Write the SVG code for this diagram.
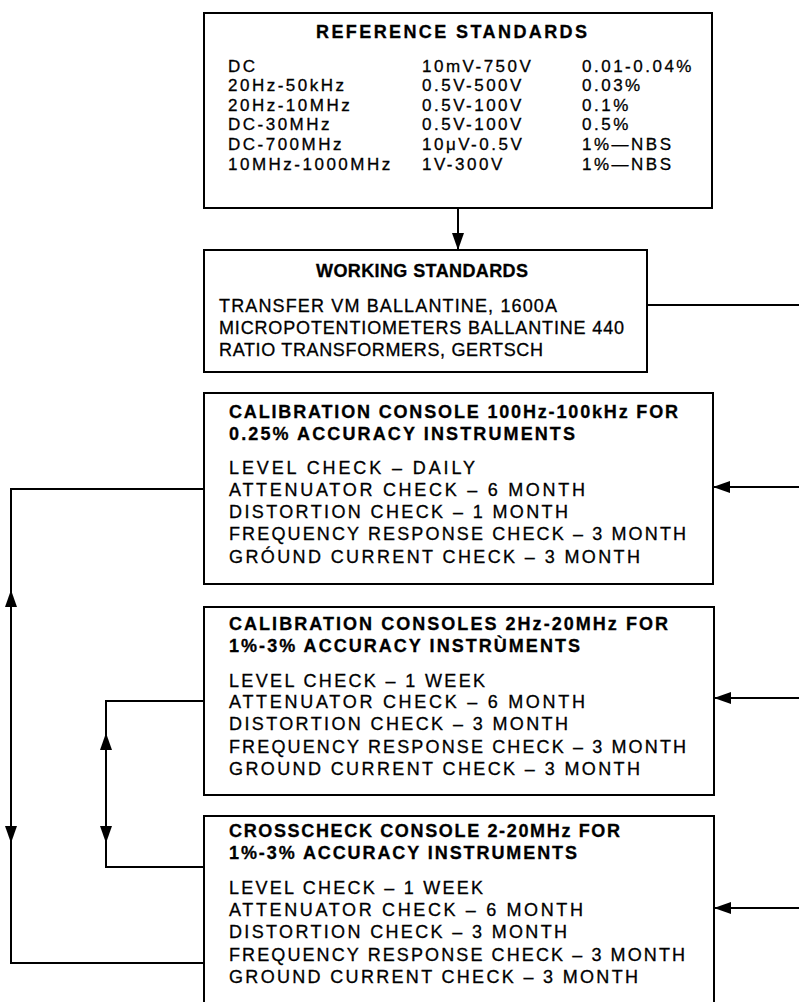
<svg xmlns="http://www.w3.org/2000/svg" width="799" height="1002" viewBox="0 0 799 1002">
<style>
.box{fill:#fff;stroke:#000;stroke-width:2}
.t{font-family:'Liberation Sans',Arial,Helvetica,sans-serif;font-size:18px;fill:#000;stroke:#000;stroke-width:0.3}
.b{font-weight:bold}
.tb{font-size:17px;letter-spacing:2.5px}
.conn{stroke:#000;stroke-width:2;fill:none}
</style>
<defs>
<marker id="ah" markerUnits="userSpaceOnUse" markerWidth="18" markerHeight="12" refX="17" refY="6" orient="auto"><path d="M0,0 L17,6 L0,12 z" fill="#000"/></marker>
</defs>
<rect width="799" height="1002" fill="#fff"/>
<g id="connectors">
<line class="conn" x1="458" y1="208" x2="458" y2="250" marker-end="url(#ah)"/>
<line class="conn" x1="647" y1="305" x2="799" y2="305"/>
<line class="conn" x1="799" y1="487" x2="713" y2="487" marker-end="url(#ah)"/>
<line class="conn" x1="799" y1="698" x2="714" y2="698" marker-end="url(#ah)"/>
<line class="conn" x1="799" y1="908" x2="714" y2="908" marker-end="url(#ah)"/>
<polyline class="conn" points="204,489 11,489 11,963 204,963"/>
<line class="conn" x1="11" y1="620" x2="11" y2="590" marker-end="url(#ah)"/>
<line class="conn" x1="11" y1="810" x2="11" y2="843" marker-end="url(#ah)"/>
<polyline class="conn" points="204,701 106,701 106,867 204,867"/>
<line class="conn" x1="106" y1="770" x2="106" y2="733" marker-end="url(#ah)"/>
<line class="conn" x1="106" y1="810" x2="106" y2="843" marker-end="url(#ah)"/>
</g>
<g id="reference-standards">
<rect class="box" x="204" y="13" width="508" height="195"/>
<text class="t b" x="316" y="38" textLength="271" lengthAdjust="spacing">REFERENCE STANDARDS</text>
<g class="t tb">
<text x="228" y="72">DC</text>
<text x="228" y="91">20Hz-50kHz</text>
<text x="228" y="111">20Hz-10MHz</text>
<text x="228" y="130">DC-30MHz</text>
<text x="228" y="150">DC-700MHz</text>
<text x="228" y="170">10MHz-1000MHz</text>
<text x="422" y="72">10mV-750V</text>
<text x="422" y="91">0.5V-500V</text>
<text x="422" y="111">0.5V-100V</text>
<text x="422" y="130">0.5V-100V</text>
<text x="422" y="150">10μV-0.5V</text>
<text x="422" y="170">1V-300V</text>
<text x="582" y="72">0.01-0.04%</text>
<text x="582" y="91">0.03%</text>
<text x="582" y="111">0.1%</text>
<text x="582" y="130">0.5%</text>
<text x="582" y="150">1%—NBS</text>
<text x="582" y="170">1%—NBS</text>
</g>
</g>
<g id="working-standards">
<rect class="box" x="204" y="250" width="443" height="122"/>
<text class="t b" x="316" y="277" textLength="212" lengthAdjust="spacing">WORKING STANDARDS</text>
<text class="t" x="219" y="312" textLength="338" lengthAdjust="spacing">TRANSFER VM BALLANTINE, 1600A</text>
<text class="t" x="219" y="334" textLength="405" lengthAdjust="spacing">MICROPOTENTIOMETERS BALLANTINE 440</text>
<text class="t" x="219" y="356" textLength="324" lengthAdjust="spacing">RATIO TRANSFORMERS, GERTSCH</text>
</g>
<g id="calibration-console-100hz">
<rect class="box" x="204" y="393" width="509" height="191"/>
<text class="t b" x="229" y="418" textLength="449" lengthAdjust="spacing">CALIBRATION CONSOLE 100Hz-100kHz FOR</text>
<text class="t b" x="229" y="440" textLength="346" lengthAdjust="spacing">0.25% ACCURACY INSTRUMENTS</text>
<text class="t" x="229" y="474" textLength="246" lengthAdjust="spacing">LEVEL CHECK – DAILY</text>
<text class="t" x="229" y="496" textLength="356" lengthAdjust="spacing">ATTENUATOR CHECK – 6 MONTH</text>
<text class="t" x="229" y="518" textLength="339" lengthAdjust="spacing">DISTORTION CHECK – 1 MONTH</text>
<text class="t" x="229" y="540" textLength="457" lengthAdjust="spacing">FREQUENCY RESPONSE CHECK – 3 MONTH</text>
<text class="t" x="229" y="563" textLength="411" lengthAdjust="spacing">GRÓUND CURRENT CHECK – 3 MONTH</text>
</g>
<g id="calibration-consoles-2hz">
<rect class="box" x="204" y="607" width="510" height="188"/>
<text class="t b" x="229" y="630" textLength="439" lengthAdjust="spacing">CALIBRATION CONSOLES 2Hz-20MHz FOR</text>
<text class="t b" x="229" y="652" textLength="351" lengthAdjust="spacing">1%-3% ACCURACY INSTRÙMENTS</text>
<text class="t" x="229" y="687" textLength="256" lengthAdjust="spacing">LEVEL CHECK – 1 WEEK</text>
<text class="t" x="229" y="708" textLength="356" lengthAdjust="spacing">ATTENUATOR CHECK – 6 MONTH</text>
<text class="t" x="229" y="730" textLength="339" lengthAdjust="spacing">DISTORTION CHECK – 3 MONTH</text>
<text class="t" x="229" y="753" textLength="457" lengthAdjust="spacing">FREQUENCY RESPONSE CHECK – 3 MONTH</text>
<text class="t" x="229" y="775" textLength="411" lengthAdjust="spacing">GROUND CURRENT CHECK – 3 MONTH</text>
</g>
<g id="crosscheck-console">
<rect class="box" x="204" y="816" width="510" height="200"/>
<text class="t b" x="229" y="837" textLength="391" lengthAdjust="spacing">CROSSCHECK CONSOLE 2-20MHz FOR</text>
<text class="t b" x="229" y="859" textLength="348" lengthAdjust="spacing">1%-3% ACCURACY INSTRUMENTS</text>
<text class="t" x="229" y="894" textLength="254" lengthAdjust="spacing">LEVEL CHECK – 1 WEEK</text>
<text class="t" x="229" y="916" textLength="354" lengthAdjust="spacing">ATTENUATOR CHECK – 6 MONTH</text>
<text class="t" x="229" y="938" textLength="338" lengthAdjust="spacing">DISTORTION CHECK – 3 MONTH</text>
<text class="t" x="229" y="961" textLength="456" lengthAdjust="spacing">FREQUENCY RESPONSE CHECK – 3 MONTH</text>
<text class="t" x="229" y="983" textLength="409" lengthAdjust="spacing">GROUND CURRENT CHECK – 3 MONTH</text>
</g>
</svg>
